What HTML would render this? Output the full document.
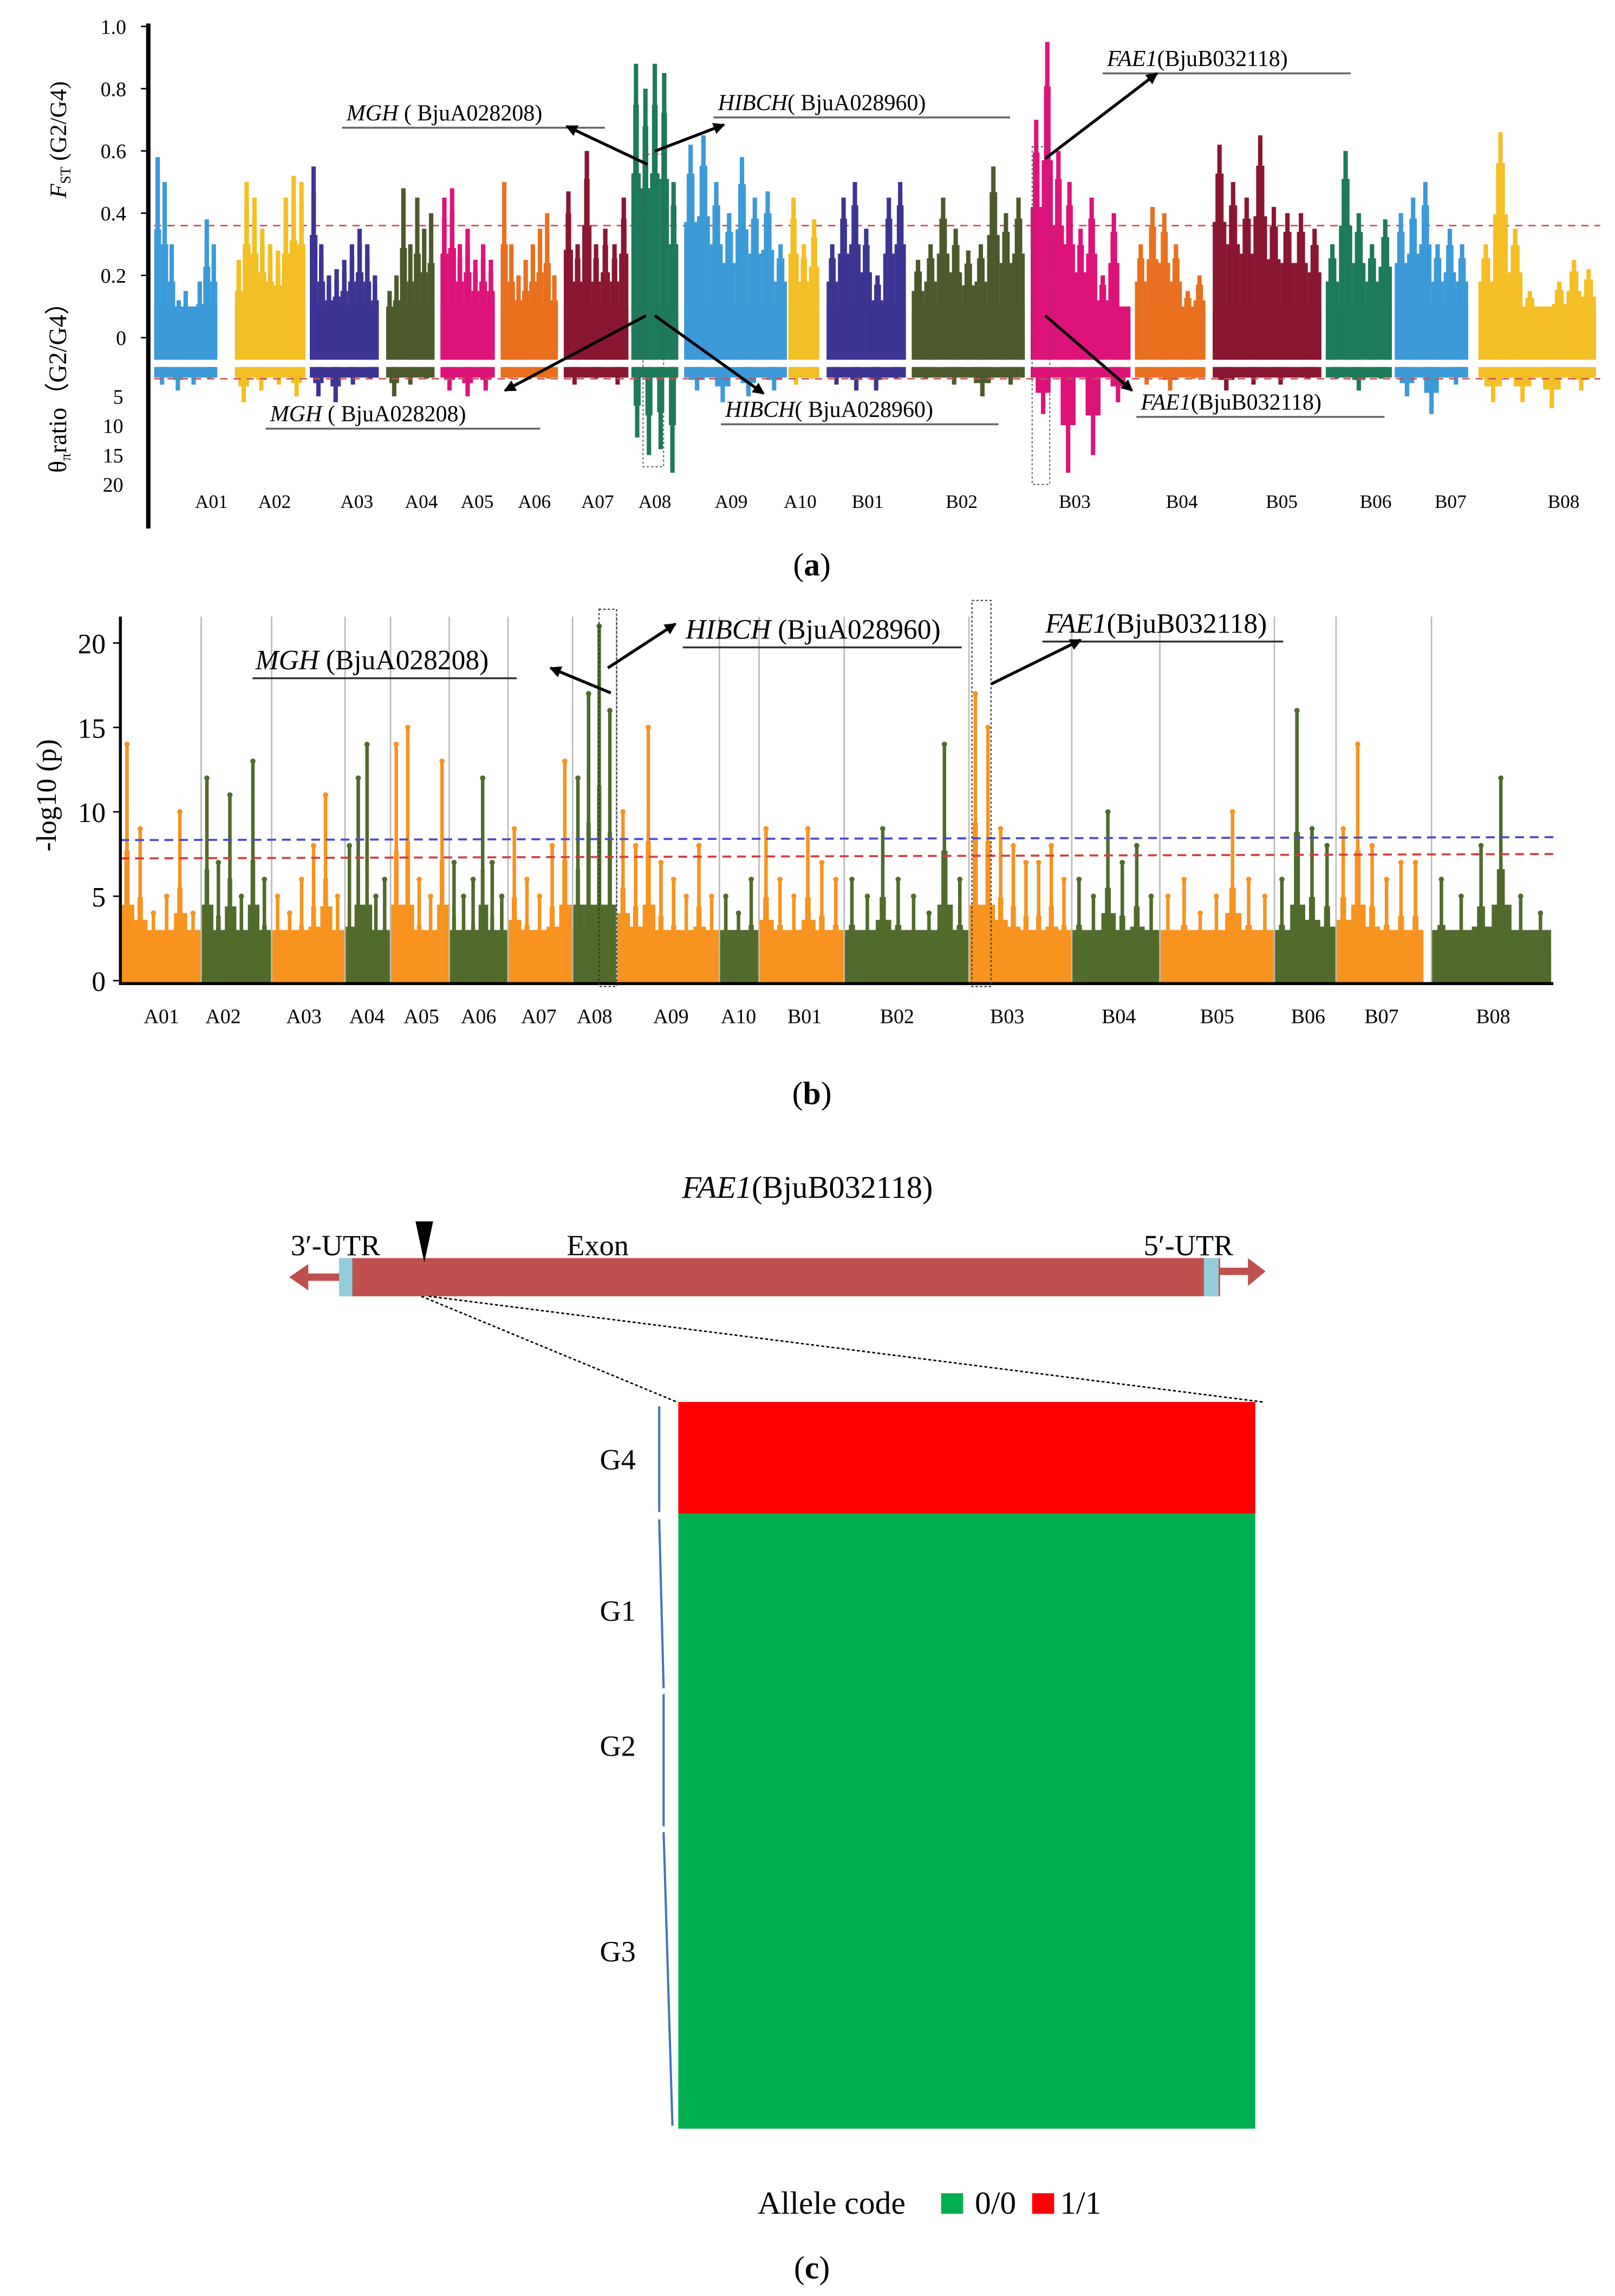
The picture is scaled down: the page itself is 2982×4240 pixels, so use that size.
<!DOCTYPE html>
<html><head><meta charset="utf-8"><style>
html,body{margin:0;padding:0;background:#fff;}
svg{display:block;font-family:"Liberation Serif",serif;}
</style></head><body>
<svg id="fig" xmlns="http://www.w3.org/2000/svg" width="2982" height="4240" viewBox="0 0 1100 1564" preserveAspectRatio="none">
<rect x="0" y="0" width="1100" height="1564" fill="#fff"/>
<g id="pa"></g>
<g id="pb"></g>
<g id="pc">
  <text x="550" y="816" text-anchor="middle" font-size="21.5"><tspan font-style="italic">FAE1</tspan>(BjuB032118)</text>
  <line x1="205" y1="870" x2="232" y2="870" stroke="#c0504d" stroke-width="5"/>
  <polygon points="197,870 210,861 210,879" fill="#c0504d"/>
  <line x1="828" y1="866" x2="852" y2="866" stroke="#c0504d" stroke-width="5"/>
  <polygon points="862,866 850,857 850,876" fill="#c0504d"/>
  <rect x="231" y="857" width="600" height="26" fill="#c0504d"/>
  <rect x="231" y="857" width="9" height="26" fill="#92cddc"/>
  <rect x="820" y="857" width="10" height="26" fill="#92cddc"/>
  <polygon points="283,832 295,832 289,860" fill="#000"/>
  <text x="198" y="855" font-size="20">3′-UTR</text>
  <text x="386" y="855" font-size="20">Exon</text>
  <text x="779" y="855" font-size="20">5′-UTR</text>
  <line x1="287" y1="883" x2="461" y2="955" stroke="#000" stroke-width="1" stroke-dasharray="2,1.5"/>
  <line x1="292" y1="883" x2="860" y2="955" stroke="#000" stroke-width="1" stroke-dasharray="2,1.5"/>
  <rect x="462" y="955" width="393" height="76" fill="#ff0000"/>
  <rect x="462" y="1031" width="393" height="419" fill="#00b050"/>
  <line x1="449" y1="958" x2="449" y2="1030" stroke="#4472c4" stroke-width="1.5"/>
  <line x1="449" y1="1035" x2="452" y2="1150" stroke="#4472c4" stroke-width="1.5"/>
  <line x1="452" y1="1154" x2="452" y2="1244" stroke="#4472c4" stroke-width="1.5"/>
  <line x1="452" y1="1248" x2="458" y2="1448" stroke="#4472c4" stroke-width="1.5"/>
  <text x="433" y="1001" text-anchor="end" font-size="20">G4</text>
  <text x="433" y="1104" text-anchor="end" font-size="20">G1</text>
  <text x="433" y="1196" text-anchor="end" font-size="20">G2</text>
  <text x="433" y="1336" text-anchor="end" font-size="20">G3</text>
  <text x="516" y="1508" font-size="22">Allele code</text>
  <rect x="641" y="1494" width="15" height="14" fill="#00b050"/>
  <text x="664" y="1508" font-size="22">0/0</text>
  <rect x="703" y="1494" width="15" height="14" fill="#ff0000"/>
  <text x="722" y="1508" font-size="22">1/1</text>
  <text x="553" y="1552" text-anchor="middle" font-size="22">(<tspan font-weight="bold">c</tspan>)</text>
</g>
</svg>
<script>
// ---------- Panel (a) data ----------
const chromsA = ["A01","A02","A03","A04","A05","A06","A07","A08","A09","A10","B01","B02","B03","B04","B05","B06","B07","B08"];
const fstA01=[0.58,0.5,0.3,0.12,0.15,0.1,0.18,0.38,0.3];
const fstA02=[0.25,0.5,0.45,0.35,0.3,0.28,0.45,0.52,0.5];
const fstA03=[0.55,0.3,0.2,0.22,0.25,0.3,0.35,0.3,0.2];
const fstA04=[0.15,0.2,0.48,0.3,0.45,0.35,0.4];
const fstA05=[0.45,0.48,0.3,0.35,0.25,0.3,0.25];
const fstA06=[0.5,0.3,0.2,0.25,0.3,0.35,0.4,0.2];
const fstA07=[0.47,0.3,0.6,0.3,0.35,0.3,0.45];
const fstA08=[0.88,0.8,0.88,0.85,0.5];
const fstA09=[0.62,0.65,0.5,0.4,0.58,0.45,0.47,0.3];
const fstA10=[0.45,0.3,0.38];
const fstB01=[0.3,0.45,0.5,0.35,0.2,0.45,0.5];
const fstB02=[0.25,0.3,0.45,0.35,0.28,0.3,0.55,0.4,0.45];
const fstB03=[0.7,0.95,0.6,0.5,0.35,0.45,0.2,0.4,0.1];
const fstB04=[0.3,0.42,0.4,0.3,0.15,0.2];
const fstB05=[0.62,0.5,0.45,0.65,0.42,0.4,0.4,0.35];
const fstB06=[0.3,0.6,0.4,0.3,0.38];
const fstB07=[0.4,0.45,0.5,0.3,0.35,0.3];
const fstB08=[0.3,0.66,0.35,0.15,0.1,0.18,0.25,0.22];
const thetaA01=[3,4,3,2], thetaA02=[6,4,3,5], thetaA03=[5,6,3,2], thetaA04=[5,3,2], thetaA05=[4,5,4], thetaA06=[2,2,2];
const thetaA07=[3,2,3], thetaA08=[12,15,14,18], thetaA09=[4,6,5,4], thetaA10=[3,2], thetaB01=[3,4,4,2], thetaB02=[2,3,5,3];
const thetaB03=[8,18,15,6], thetaB04=[3,4,2], thetaB05=[4,3,3,2], thetaB06=[2,4,2], thetaB07=[5,8,3], thetaB08=[6,6,7,4];
const fstTicks=["1.0","0.8","0.6","0.4","0.2","0"];
const fstTickVals=[1.0,0.8,0.6,0.4,0.2,0];
const thetaTicks=["5","10","15","20"];
const thetaTickVals=[5,10,15,20];
const fstThreshold=0.36;
// ---------- Panel (b) data ----------
const pA01=[14,9,4,5,10,4], pA02=[12,7,11,5,13,6], pA03=[5,4,6,8,11,5], pA04=[8,12,14,5,6], pA05=[14,15,6,5,13];
const pA06=[7,5,6,12,7,5], pA07=[9,6,5,8,13], pA08=[12,17,21,16], pA09=[10,8,15,7,6,5,8,5], pA10=[5,4,6];
const pB01=[9,6,5,9,7,6], pB02=[6,5,9,6,5,4,14,6], pB03=[17,15,9,8,7,7,8,6], pB04=[6,5,10,7,8,5];
const pB05=[5,6,4,5,10,6,5], pB06=[6,16,9,8], pB07=[9,14,8,6,7,7], pB08=[6,5,8,12,5,4];
const pTicks=["20","15","10","5","0"];
const pTickVals=[20,15,10,5,0];
const pBlue=8.5, pRed=7.5;

const NS="http://www.w3.org/2000/svg";
function mk(parent,tag,attrs,txt){const e=document.createElementNS(NS,tag);for(const k in attrs)e.setAttribute(k,attrs[k]);if(txt!==undefined)e.textContent=txt;parent.appendChild(e);return e;}

const fstSeries=[fstA01,fstA02,fstA03,fstA04,fstA05,fstA06,fstA07,fstA08,fstA09,fstA10,fstB01,fstB02,fstB03,fstB04,fstB05,fstB06,fstB07,fstB08];
const thetaSeries=[thetaA01,thetaA02,thetaA03,thetaA04,thetaA05,thetaA06,thetaA07,thetaA08,thetaA09,thetaA10,thetaB01,thetaB02,thetaB03,thetaB04,thetaB05,thetaB06,thetaB07,thetaB08];
const pSeries=[pA01,pA02,pA03,pA04,pA05,pA06,pA07,pA08,pA09,pA10,pB01,pB02,pB03,pB04,pB05,pB06,pB07,pB08];
const colA=["#3c9ad8","#f4bf24","#3d3593","#4c5a2b","#dd137a","#e8701f","#8a1632","#1d7a5a","#3c9ad8","#f4bf24","#3d3593","#4c5a2b","#dd137a","#e8701f","#8a1632","#1d7a5a","#3c9ad8","#f4bf24"];
const xa=[[105,148],[160,208],[211,258],[263,296],[300,337],[341,380],[384,428],[430,462],[466,536],[537,558],[563,617],[621,698],[702,770],[773,821],[826,900],[903,948],[950,1000],[1007,1087]];
const xb=[[82,137],[137,185],[185,235],[235,266],[266,306],[306,346],[346,390],[390,420],[420,490],[490,517],[517,575],[575,660],[660,730],[730,790],[790,868],[868,910],[910,970],[975,1057]];
const labXa=[144,187,243,287,325,364,407,446,498,545,591,655,732,805,873,937,988,1065];
const labXb=[110,152,207,250,287,326,367,405,457,503,548,611,686,762,829,891,941,1017];

// ---------- draw panel (a) ----------
const pa=document.getElementById('pa');
const yF=v=>230-v*212;
const yT=v=>250+v*4;
let l=mk(pa,'line',{x1:105,y1:yF(fstThreshold),x2:1090,y2:yF(fstThreshold),stroke:'#c8505a','stroke-width':1,'stroke-dasharray':'5,4'});


chromsA.forEach((c,i)=>{
  const g=mk(pa,'g',{});
  
  
  const [x0,x1]=xa[i];const w=x1-x0;const vals=fstSeries[i];const n=vals.length;const cw=w/n;
  mk(g,'rect',{x:x0,y:yF(0.1),width:w,height:245-yF(0.1),fill:colA[i]});
  vals.forEach((v,j)=>{
    const cx=x0+cw*(j+0.5);
    mk(g,'rect',{x:x0+cw*j,y:yF(v*0.6),width:cw,height:245-yF(v*0.6),fill:colA[i]});
    mk(g,'rect',{x:cx-cw*0.3,y:yF(v*0.85),width:cw*0.6,height:245-yF(v*0.85),fill:colA[i]});
    const r=mk(g,'rect',{x:cx-1.5,y:yF(v),width:3,height:245-yF(v),fill:colA[i]});
    
    
  });
  const th=thetaSeries[i];const tw=w/th.length;
  const tg=mk(pa,'g',{});
  
  
  mk(tg,'rect',{x:x0,y:250,width:w,height:yT(1.8)-250,fill:colA[i]});
  th.forEach((v,j)=>{
    const cx=x0+tw*(j+0.5);
    const r=mk(tg,'rect',{x:cx-1.5,y:250,width:3,height:yT(v)-250,fill:colA[i]});
    
    
    mk(tg,'rect',{x:cx-tw*0.3,y:250,width:tw*0.6,height:yT(v*0.55)-250,fill:colA[i]});
  });
  const t=mk(pa,'text',{x:labXa[i],y:346,'text-anchor':'middle','font-size':13},c);
  
  
});
l=mk(pa,'line',{x1:105,y1:258,x2:1090,y2:258,stroke:'#c8505a','stroke-width':1,'stroke-dasharray':'5,4'});


l=mk(pa,'line',{x1:101,y1:16,x2:101,y2:360,stroke:'#000','stroke-width':3});


fstTicks.forEach((s,i)=>{const y=yF(fstTickVals[i]);mk(pa,'line',{x1:96,y1:y,x2:101,y2:y,stroke:'#000'});
  const t=mk(pa,'text',{x:86,y:y+5,'text-anchor':'end','font-size':14},s);
  
  });
thetaTicks.forEach((s,i)=>{const y=yT(thetaTickVals[i]);
  const t=mk(pa,'text',{x:84,y:y+5,'text-anchor':'end','font-size':14},s);
  
  });
let t=mk(pa,'text',{transform:'translate(45,135) rotate(-90)','font-size':16},'');
t.innerHTML='<tspan font-style="italic">F</tspan><tspan font-size="10" dy="3">ST</tspan><tspan dy="-3"> (G2/G4)</tspan>';


t=mk(pa,'text',{transform:'translate(45,322) rotate(-90)','font-size':17},'');
t.innerHTML='θ<tspan font-size="10" dy="3">π</tspan><tspan dy="-3">ratio（G2/G4）</tspan>';


[[438,105,452,318],[703,100,715,330]].forEach(b=>{const r=mk(pa,'rect',{x:b[0],y:b[1],width:b[2]-b[0],height:b[3]-b[1],fill:'none',stroke:'#555','stroke-width':0.7,'stroke-dasharray':'1.5,1.5'});
  
  });
const defs=mk(document.getElementById('fig'),'defs',{});
const mkr=mk(defs,'marker',{id:'ah',markerWidth:8,markerHeight:8,refX:7,refY:4,orient:'auto',markerUnits:'userSpaceOnUse'});
mk(mkr,'path',{d:'M0,0 L8,4 L0,8 z',fill:'#000'});
function ann(parent,x,y,it,rest,ux2,name){
  const tt=mk(parent,'text',{x:x,y:y,'font-size':15.5},'');
  tt.innerHTML='<tspan font-style="italic">'+it+'</tspan>'+rest;
  
  
  mk(parent,'line',{x1:x-3,y1:y+5,x2:ux2,y2:y+5,stroke:'#666','stroke-width':1.3});
}
function arr(parent,x1,y1,x2,y2){const a=mk(parent,'line',{x1:x1,y1:y1,x2:x2,y2:y2,stroke:'#000','stroke-width':2,'marker-end':'url(#ah)'});
  
  }
ann(pa,236,82,'MGH',' ( BjuA028208)',412,'mgh-label-top');
ann(pa,489,75,'HIBCH','( BjuA028960)',688,'hibch-label-top');
ann(pa,754,45,'FAE1','(BjuB032118)',920,'fae1-label-top');
ann(pa,184,287,'MGH',' ( BjuA028208)',368,'mgh-label-bottom');
ann(pa,494,284,'HIBCH','( BjuA028960)',680,'hibch-label-bottom');
ann(pa,777,279,'FAE1','(BjuB032118)',943,'fae1-label-bottom');
arr(pa,441,112,386,86);arr(pa,446,103,493,85);arr(pa,712,108,788,50);
arr(pa,440,215,344,266);arr(pa,446,215,520,268);arr(pa,712,215,771,266);
t=mk(pa,'text',{x:553,y:392,'text-anchor':'middle','font-size':22},'');
t.innerHTML='(<tspan font-weight="bold">a</tspan>)';



// ---------- draw panel (b) ----------
const pb=document.getElementById('pb');
const yP=v=>668-v*11.5;
const colB=i=>i%2===0?'#f7931e':'#506b2b';
xb.forEach((b,i)=>{if(i>0){const g=mk(pb,'line',{x1:b[0],y1:420,x2:b[0],y2:670,stroke:'#bbb','stroke-width':1});
  
  }});
chromsA.forEach((c,i)=>{
  const g=mk(pb,'g',{});
  
  
  const [x0,x1]=xb[i];const w=x1-x0-1;const vals=pSeries[i];const n=vals.length;const cw=w/n;
  mk(g,'rect',{x:x0+0.5,y:yP(3),width:w,height:670-yP(3),fill:colB(i)});
  vals.forEach((v,j)=>{
    const cx=x0+cw*(j+0.5);
    const h=Math.min(v*0.4,4.5);
    mk(g,'rect',{x:x0+0.5+cw*j,y:yP(h),width:cw,height:670-yP(h),fill:colB(i)});
    mk(g,'rect',{x:cx-cw*0.2,y:yP(v*0.55),width:cw*0.4,height:670-yP(v*0.55),fill:colB(i)});
    const r=mk(g,'rect',{x:cx-1.2,y:yP(v),width:2.4,height:670-yP(v),fill:colB(i)});
    
    
    mk(g,'circle',{cx:cx,cy:yP(v),r:1.8,fill:colB(i)});
  });
  const tt=mk(pb,'text',{x:labXb[i],y:697,'text-anchor':'middle','font-size':14},c);
  
  
});
l=mk(pb,'line',{x1:82,y1:yP(pBlue)+2,x2:1060,y2:yP(pBlue),stroke:'#4b4bd0','stroke-width':1.4,'stroke-dasharray':'6,4'});


l=mk(pb,'line',{x1:82,y1:yP(pRed)+3,x2:1060,y2:yP(pRed),stroke:'#d04040','stroke-width':1.4,'stroke-dasharray':'6,4'});


l=mk(pb,'path',{d:'M82,420 L82,670 L1058,670',fill:'none',stroke:'#000','stroke-width':2});


pTicks.forEach((s,i)=>{const y=yP(pTickVals[i]);mk(pb,'line',{x1:77,y1:y,x2:82,y2:y,stroke:'#000'});
  const tt=mk(pb,'text',{x:72,y:y+7,'text-anchor':'end','font-size':19},s);
  
  });
t=mk(pb,'text',{transform:'translate(38,580) rotate(-90)','font-size':19},'-log10 (p)');


[[408,415,420,672],[662,409,675,672]].forEach(b=>{const r=mk(pb,'rect',{x:b[0],y:b[1],width:b[2]-b[0],height:b[3]-b[1],fill:'none',stroke:'#333','stroke-width':0.8,'stroke-dasharray':'1.5,1.5'});
  
  });
function annB(x,y,it,rest,ux2,name){const tt=mk(pb,'text',{x:x,y:y,'font-size':19},'');
  tt.innerHTML='<tspan font-style="italic">'+it+'</tspan>'+rest;
  
  
  mk(pb,'line',{x1:x-2,y1:y+6,x2:ux2,y2:y+6,stroke:'#333','stroke-width':1.3});}
annB(174,456,'MGH',' (BjuA028208)',352,'mgh-label-b');
annB(467,435,'HIBCH',' (BjuA028960)',655,'hibch-label-b');
annB(712,431,'FAE1','(BjuB032118)',874,'fae1-label-b');
arr(pb,416,472,375,455);arr(pb,414,455,460,425);arr(pb,675,466,736,436);
t=mk(pb,'text',{x:553,y:752,'text-anchor':'middle','font-size':22},'');
t.innerHTML='(<tspan font-weight="bold">b</tspan>)';


</script>
</body></html>
